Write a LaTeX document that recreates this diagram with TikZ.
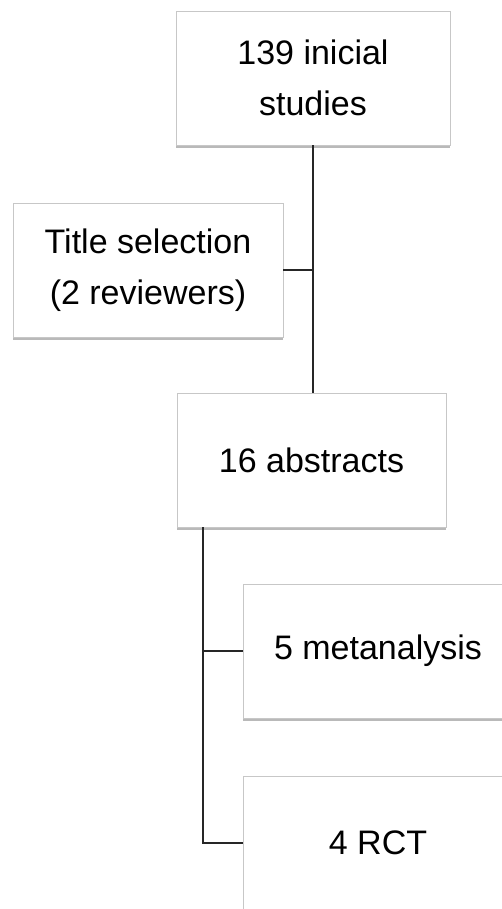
\documentclass[tikz,border=0pt]{standalone}
\usepackage{fontspec}
\setmainfont{Liberation Sans}
\usepackage{tikz}
\usetikzlibrary{positioning,calc,shadows}

\begin{document}
\begin{tikzpicture}[
    x=1pt, y=-1pt,
    box/.style={rectangle, draw=black!22, line width=0.8pt, fill=white, minimum width=270pt, minimum height=134pt, align=center, font=\fontsize{34}{51}\selectfont, drop shadow={shadow xshift=-0.5pt, shadow yshift=-3pt, fill=black!50, opacity=0.55}},
    link/.style={line width=2pt, draw=black!85}
]
\clip (0,0) rectangle (502,909);
\fill[white] (0,0) rectangle (502,909);

\node[box, minimum width=274pt] (studies) at (313,78) {139 inicial\\studies};
\node[box] (title) at (148,270) {Title selection\\(2 reviewers)};
\node[box, minimum width=269pt] (abstracts) at (311.5,460) {16 abstracts};
\node[box] (meta) at (378,651) {5 metanalysis};
\node[box] (rct) at (378,843) {4 RCT};

\coordinate (branch) at ($(abstracts.south west)+(26,0)$);

\draw[link] (studies.south) -- (studies.south |- abstracts.north);
\draw[link] (title.east) -- (title.east -| studies.south);
\draw[link] (branch) |- (rct.west);
\draw[link] (branch |- meta.west) -- (meta.west);

\end{tikzpicture}
\end{document}
